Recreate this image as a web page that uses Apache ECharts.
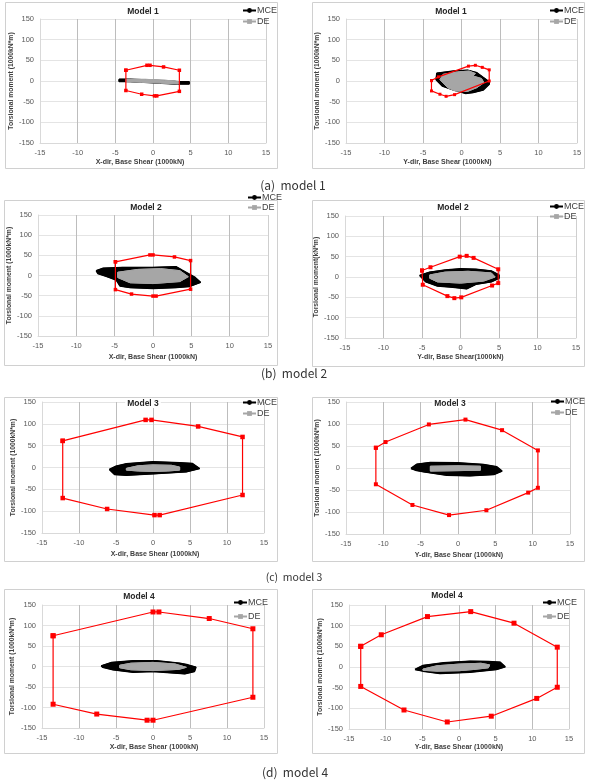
<!DOCTYPE html>
<html><head><meta charset="utf-8">
<script src="https://cdn.jsdelivr.net/npm/echarts@6/dist/echarts.min.js"></script>
<style>html,body{margin:0;padding:0;background:#fff}#c{width:594px;height:784px}</style>
</head><body><div id="c"></div>
<script>
// ---- axis ticks ----
const xTicks = [-15, -10, -5, 0, 5, 10, 15];
const yTicks = [-150, -100, -50, 0, 50, 100, 150];
const legendNames = ['MCE', 'DE'];
const panelTitles = ['Model 1', 'Model 1', 'Model 2', 'Model 2', 'Model 3', 'Model 3', 'Model 4', 'Model 4'];
const xAxisNames = ['X-dir, Base Shear (1000kN)', 'Y-dir, Base Shear (1000kN)', 'X-dir, Base Shear (1000kN)', 'Y-dir, Base Shear(1000kN)',
  'X-dir, Base Shear (1000kN)', 'Y-dir, Base Shear (1000kN)', 'X-dir, Base Shear (1000kN)', 'Y-dir, Base Shear (1000kN)'];
const yAxisNames = ['Torsional moment (1000kN*m)', 'Torsional moment (1000kN*m)', 'Torsional moment (1000kN*m)', 'Torsional moment(kN*m)',
  'Torsional moment (1000kN*m)', 'Torsional moment (1000kN*m)', 'Torsional moment (1000kN*m)', 'Torsional moment (1000kN*m)'];
const captions = ['(a)  model 1', '(b)  model 2', '(c)  model 3', '(d)  model 4'];

// ---- data: [base shear (1000kN), torsional moment (1000kN*m)] ----
// Model 1, X-dir
const m1x_limit = [[-3.6,26],[-0.8,38],[-0.4,38],[1.4,34],[3.5,26],[3.5,-25],[0.5,-36],[0.2,-36],[-1.5,-32],[-3.6,-23]];
const m1x_mce = [[-4.5,4],[-3,4],[0,2],[3,-1],[4.8,-2],[4.8,-7],[3,-7],[0,-4],[-3,-1.5],[-4.5,-1]];
const m1x_de = [[-3.6,4],[-1,4],[1.5,2],[3.4,-1],[3.4,-7],[1,-5],[-1.5,-3],[-3.6,-1]];
// Model 1, Y-dir
const m1y_limit = [[-3.9,1],[-3.0,10],[0.9,36],[1.8,38],[2.7,33],[3.6,27],[3.6,0],[-0.9,-33],[-2.0,-37],[-2.8,-32],[-3.9,-24]];
const m1y_mce = [[-3.3,3],[-3.2,19],[-1,24],[0.8,26],[2,20],[3.6,-2],[3.6,-8],[2.8,-22],[1.5,-28],[0.5,-30],[-1,-22],[-2.5,-12]];
const m1y_de = [[-2.8,3],[-2.4,16],[-0.5,22],[1,24],[1.8,18],[1.5,12],[2.6,6],[2.9,-4],[2,-16],[0.8,-25],[-0.8,-24],[-1.8,-16]];
// Model 2, X-dir
const m2x_limit = [[-4.9,34],[-0.4,51],[0,51],[2.8,46],[4.9,37],[4.9,-34],[0.4,-51],[0,-51],[-2.8,-46],[-4.9,-35]];
const m2x_mce = [[-7.4,12],[-6.5,18],[-4,20],[0,20],[3,22],[3.8,13],[5.5,-5],[6.2,-17],[4.8,-27],[3,-30],[0,-32],[-3,-30],[-4.3,-26],[-4.8,-11],[-6.1,-2],[-7.2,5]];
const m2x_de = [[-4.6,8],[-2,15],[1,17],[3.5,12],[4.6,-3],[3.5,-15],[0,-20],[-3,-18],[-4.6,-5]];
// Model 2, Y-dir
const m2y_limit = [[-5.0,16],[-3.9,24],[-0.1,50],[0.8,52],[1.7,47],[4.9,19],[4.9,-15],[4.1,-21],[0.1,-50],[-0.8,-52],[-1.7,-47],[-4.9,-19]];
const m2y_mce = [[-5.3,4],[-4,12],[-2,17],[0,20],[2,19],[4,15],[5,5],[5,-3],[4,-12],[2,-18],[0.8,-29],[-1,-25],[-3,-22],[-4.5,-12]];
const m2y_de = [[-4,5],[-2,12],[1,14],[4,10],[4.5,0],[3,-10],[0,-15],[-3,-12],[-4,-3]];
// Model 3, X-dir
const m3x_limit = [[-12.2,61],[-1,109],[-0.2,109],[6.1,94],[12.1,70],[12.1,-63],[0.9,-109],[0.2,-109],[-6.2,-95],[-12.2,-70]];
const m3x_mce = [[-5.9,-4.6],[-5,3],[-3.6,8.4],[0,13],[3.6,10.7],[5.3,9.2],[6.3,-2.3],[4.5,-10],[0,-14.5],[-3.6,-17.6],[-5.2,-16]];
const m3x_de = [[-3.6,-2],[-2,4],[0,6],[2.5,5],[3.6,1],[3.6,-6],[2,-8],[0,-9],[-2,-8],[-3.6,-6]];
// Model 3, Y-dir
const m3y_limit = [[-11.0,46],[-9.7,59],[-3.9,99],[1.0,110],[5.9,86],[10.7,40],[10.7,-45],[9.4,-56],[3.8,-96],[-1.2,-107],[-6.1,-84],[-11.0,-37]];
const m3y_mce = [[-6.3,-1],[-5.5,8.7],[-3.7,12.5],[-0.1,11.7],[3.4,8],[5.2,2.6],[5.9,-7],[4.8,-14.7],[1.6,-17.8],[-1.5,-16.3],[-4.6,-8.7],[-5.7,-4.9]];
const m3y_de = [[-3.7,4],[0,5],[3,4],[3,-5],[0,-6],[-3.7,-7]];
// Model 4, X-dir
const m4x_limit = [[-13.5,75],[0,133],[0.8,133],[7.6,117],[13.5,92],[13.5,-75],[0,-131],[-0.8,-131],[-7.6,-116],[-13.5,-92]];
const m4x_mce = [[-7,1.6],[-5.6,9.7],[-2.7,13.8],[0.5,13.8],[3.6,8],[4.7,4],[5.8,-1.6],[5.6,-12],[4.3,-17.8],[0,-12],[-2.7,-13.8],[-5.4,-8],[-6.8,-1.6]];
const m4x_de = [[-4.5,3],[-3,8],[0,10],[3,6],[4.5,-2],[3.5,-7],[0,-10],[-3,-8],[-4.5,-3]];
// Model 4, Y-dir
const m4y_limit = [[-13.4,50],[-10.6,78],[-4.3,122],[1.6,134],[7.5,106],[13.4,48],[13.4,-49],[10.6,-76],[4.4,-119],[-1.6,-133],[-7.5,-104],[-13.4,-47]];
const m4y_mce = [[-6,-6],[-4.9,3.6],[-2.1,10],[1.5,14],[4,13.3],[5.6,11.7],[6.3,0.4],[5.1,-6],[1.5,-12.5],[-2.6,-15.8],[-4.9,-10]];
const m4y_de = [[-4.9,-5],[-3,3],[0,7],[3,9],[4.2,5],[4,-2],[2,-6],[0,-9],[-3,-10],[-4.9,-8]];

const limits = [m1x_limit, m1y_limit, m2x_limit, m2y_limit, m3x_limit, m3y_limit, m4x_limit, m4y_limit];
const mces = [m1x_mce, m1y_mce, m2x_mce, m2y_mce, m3x_mce, m3y_mce, m4x_mce, m4y_mce];
const des = [m1x_de, m1y_de, m2x_de, m2y_de, m3x_de, m3y_de, m4x_de, m4y_de];

// ---- layout (pixels) ----
const layout = [
  {box:[5,2,272,166],   grid:[40,19,226,124],  tX:141, tY:7,   lX:242, lY:6,   lGap:2, xGap:16, xShift:-13, yGap:23, sym:3.5},
  {box:[312,2,272,166], grid:[346,19,231,124], tX:449, tY:7,   lX:549, lY:6,   lGap:2, xGap:16, xShift:-14, yGap:23, sym:3},
  {box:[4,200,273,165], grid:[38,215,230,121], tX:144, tY:203, lX:247, lY:193, lGap:1, xGap:18, xShift:0,   yGap:23, sym:3.5},
  {box:[312,200,272,166],grid:[345,216,231,122],tX:451, tY:203, lX:549, lY:202, lGap:1, xGap:16, xShift:0,  yGap:23, sym:4},
  {box:[4,397,273,164], grid:[42,402,222,131], tX:141, tY:399, lX:242, lY:398, lGap:2, xGap:18, xShift:2,   yGap:25, sym:4.5},
  {box:[312,397,272,164],grid:[346,402,224,132],tX:448, tY:399, lX:550, lY:397, lGap:2, xGap:18, xShift:1,  yGap:22, sym:4},
  {box:[4,589,273,164], grid:[42,605,222,123], tX:137, tY:592, lX:233, lY:598, lGap:5, xGap:16, xShift:1,   yGap:26, sym:5},
  {box:[312,589,272,164],grid:[349,605,220,124],tX:445, tY:591, lX:542, lY:598, lGap:5, xGap:15, xShift:0,  yGap:25, sym:5}
];
const captionPos = [[293,185,12],[294,373,12],[294,577,10.5],[295,772,12]];

function closed(arr){ return arr.concat([arr[0]]); }
function polyRender(points, color){
  return function(params, api){
    if (params.dataIndex !== 0) return null;
    return {type:'polygon', shape:{points: points.map(p => api.coord(p))},
            style:{fill:color, stroke:color, lineWidth:1}};
  };
}

const FONT = '"Liberation Sans", Arial, sans-serif';
const option = {animation:false, backgroundColor:'#fff', textStyle:{fontFamily:FONT},
  title:[], legend:[], grid:[], xAxis:[], yAxis:[], series:[], graphic:[]};

for (let i = 0; i < 8; i++) {
  const L = layout[i];
  option.graphic.push({type:'rect', silent:true, z:-10,
    shape:{x:L.box[0]+0.5, y:L.box[1]+0.5, width:L.box[2], height:L.box[3]},
    style:{fill:'#fff', stroke:'#d0d0d0', lineWidth:1}});
  option.grid.push({left:L.grid[0], top:L.grid[1], width:L.grid[2], height:L.grid[3]});
  const pad = L.xShift < 0 ? [0, -2*L.xShift, 0, 0] : [0, 0, 0, 2*L.xShift];
  option.xAxis.push({gridIndex:i, type:'value', min:xTicks[0], max:xTicks[xTicks.length-1], interval:xTicks[1]-xTicks[0],
    name:xAxisNames[i], nameLocation:'middle', nameGap:L.xGap,
    nameTextStyle:{fontSize:7, fontWeight:'bold', color:'#404040', padding:pad},
    axisLine:{show:true, onZero:false, lineStyle:{color:'#d9d9d9'}}, axisTick:{show:false},
    axisLabel:{fontSize:7.5, color:'#595959', margin:6},
    splitLine:{show:true, lineStyle:{color:['#d9d9d9','#bdbdbd','#bdbdbd','#bdbdbd','#bdbdbd','#bdbdbd','#cfcfcf'], width:1}}});
  option.yAxis.push({gridIndex:i, type:'value', min:yTicks[0], max:yTicks[yTicks.length-1], interval:yTicks[1]-yTicks[0],
    name:yAxisNames[i], nameLocation:'middle', nameGap:L.yGap,
    nameTextStyle:{fontSize:6.8, fontWeight:'bold', color:'#404040'},
    axisLine:{show:true, onZero:false, lineStyle:{color:'#d9d9d9'}}, axisTick:{show:false},
    axisLabel:{fontSize:7.5, color:'#595959', margin:6},
    splitLine:{show:true, lineStyle:{color:'#e4e4e4', width:1}}});
  option.title.push({text:panelTitles[i], left:L.tX, top:L.tY, textAlign:'center', padding:[0,2], backgroundColor:'#fff',
    textStyle:{fontSize:8.5, fontWeight:'bold', color:'#262626', fontFamily:FONT}});
  option.legend.push({left:L.lX, top:L.lY, orient:'vertical', itemGap:L.lGap, itemWidth:13, itemHeight:6, padding:0,
    selectedMode:false, data:legendNames, textStyle:{fontSize:9, color:'#404040', padding:[0,0,0,-4]}});

  option.series.push({type:'custom', name:'mceFill', coordinateSystem:'cartesian2d', xAxisIndex:i, yAxisIndex:i,
    data:mces[i], renderItem:polyRender(mces[i], '#000'), z:2, silent:true});
  option.series.push({type:'line', name:legendNames[0], xAxisIndex:i, yAxisIndex:i, data:closed(mces[i]),
    symbol:'circle', symbolSize:3, showSymbol:false, lineStyle:{color:'#000', width:1.5}, itemStyle:{color:'#000'}, z:2, silent:true});
  option.series.push({type:'custom', name:'deFill', coordinateSystem:'cartesian2d', xAxisIndex:i, yAxisIndex:i,
    data:des[i], renderItem:polyRender(des[i], '#a6a6a6'), z:3, silent:true});
  option.series.push({type:'line', name:legendNames[1], xAxisIndex:i, yAxisIndex:i, data:closed(des[i]),
    symbol:'rect', symbolSize:3, showSymbol:false, lineStyle:{color:'#a6a6a6', width:1}, itemStyle:{color:'#a6a6a6'}, z:3, silent:true});
  option.series.push({type:'line', name:'limit', xAxisIndex:i, yAxisIndex:i, data:closed(limits[i]),
    symbol:'rect', symbolSize:L.sym, lineStyle:{color:'#ff0000', width:1.2}, itemStyle:{color:'#ff0000'}, z:5, silent:true});
}
captions.forEach((t, k) => {
  option.graphic.push({type:'text', silent:true, x:captionPos[k][0], y:captionPos[k][1],
    style:{text:t, align:'center', verticalAlign:'middle', font:captionPos[k][2] + 'px "Noto Sans CJK KR", sans-serif', fill:'#333'}});
});

const chart = echarts.init(document.getElementById('c'), null, {renderer:'canvas'});
chart.setOption(option);
</script></body></html>
